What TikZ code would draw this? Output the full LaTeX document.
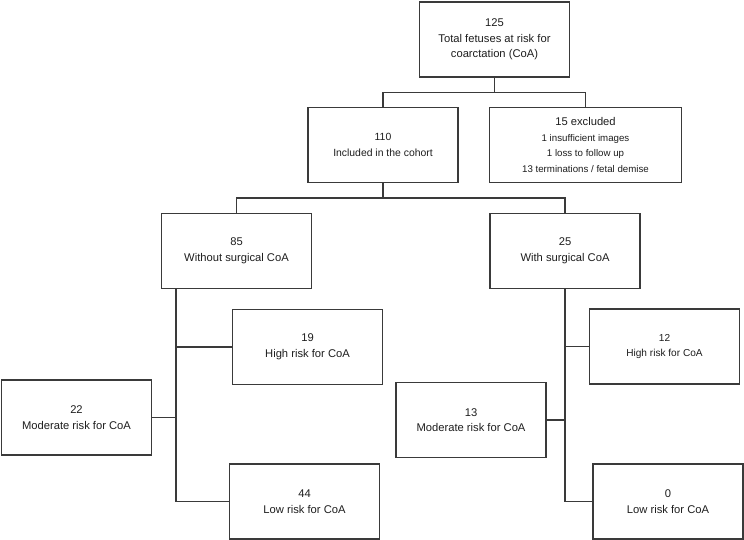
\documentclass[tikz,border=0pt]{standalone}
\usepackage{fontspec}
\setmainfont{Liberation Sans}
\usepackage{xcolor}
\usepackage{tikz}
\usetikzlibrary{positioning,calc}
\definecolor{frame}{RGB}{58,58,58}
\definecolor{ink}{RGB}{30,30,30}

\begin{document}
\begin{tikzpicture}[
      x=1pt,y=-1pt,
      font=\fontsize{11.2}{15.5}\selectfont,
      box/.style={draw=frame,line width=1.4pt,fill=white,text=ink,align=center,
                  minimum width=150pt,minimum height=75pt,inner sep=2pt},
      small/.style={font=\fontsize{10.4}{16}\selectfont},
      link/.style={draw=frame,line width=1.4pt},
    ]
    \useasboundingbox (0,0) rectangle (744,540);

    % top of the tree
    \node[box] (total) at (494.5,39.5)
      {125\\Total fetuses at risk for\\coarctation (CoA)};
    \node[box,small] (incl) at (383,145) {110\\Included in the cohort};
    \node[box,minimum width=192pt] (excl) at (585.5,145)
      {15 excluded\\{\fontsize{9.7}{14.5}\selectfont 1 insufficient images}\\
       {\fontsize{9.7}{14.5}\selectfont 1 loss to follow up}\\
       {\fontsize{9.7}{14.5}\selectfont 13 terminations / fetal demise}};

    % cohort split
    \node[box] (nosurg) at (236.5,251) {85\\Without surgical CoA};
    \node[box] (surg) at (565,251) {25\\With surgical CoA};

    % risk groups, without surgery
    \node[box] (nshigh) at (307.5,347) {19\\High risk for CoA};
    \node[box] (nsmod) at (76.5,417.5) {22\\Moderate risk for CoA};
    \node[box] (nslow) at (304.5,501.5) {44\\Low risk for CoA};

    % risk groups, with surgery
    \node[box,font=\fontsize{10.1}{15.5}\selectfont] (shigh) at (664.5,346.5) {12\\High risk for CoA};
    \node[box] (smod) at (471,420) {13\\Moderate risk for CoA};
    \node[box] (slow) at (668,501.5) {0\\Low risk for CoA};

    \coordinate (tsplit) at ($(total.south)+(0,15)$);
    \draw[link] (total.south) -- (tsplit) -| (incl.north);
    \draw[link] (tsplit) -| (excl.north);

    \coordinate (isplit) at ($(incl.south)+(0,15)$);
    \draw[link] (incl.south) -- (isplit) -| (nosurg.north);
    \draw[link] (isplit) -| (surg.north);

    \coordinate (nsspine) at ($(nosurg.south west)+(15,0)$);
    \draw[link] (nsspine) |- (nslow.west);
    \draw[link] (nsspine |- nshigh.west) -- (nshigh.west);
    \draw[link] (nsspine |- nsmod.east) -- (nsmod.east);

    \draw[link] (surg.south) |- (slow.west);
    \draw[link] (surg.south |- shigh.west) -- (shigh.west);
    \draw[link] (surg.south |- smod.east) -- (smod.east);
  \end{tikzpicture}
\end{document}
